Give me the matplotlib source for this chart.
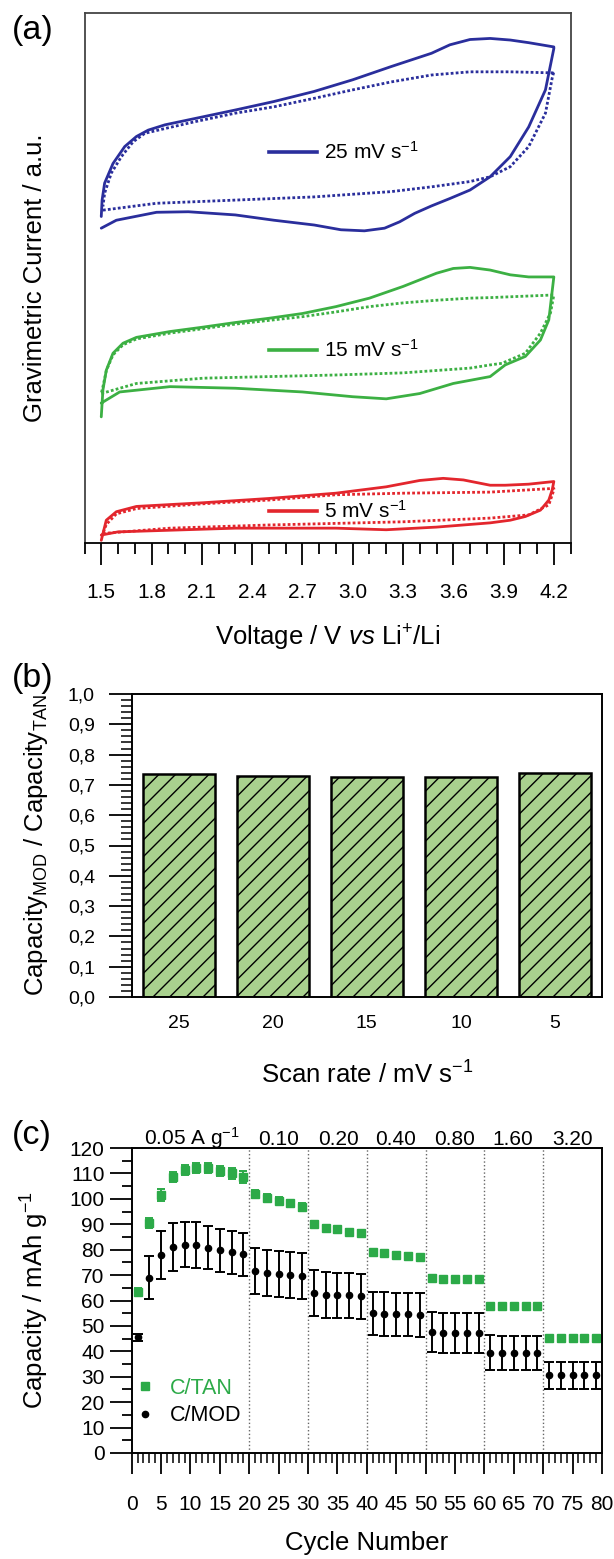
import numpy as np
import matplotlib.pyplot as plt
from matplotlib.ticker import MultipleLocator, FixedLocator, FuncFormatter
from matplotlib.lines import Line2D

plt.rcParams['font.family'] = ['Liberation Sans', 'DejaVu Sans']
plt.rcParams['mathtext.fontset'] = 'custom'
plt.rcParams['mathtext.rm'] = 'Liberation Sans'
plt.rcParams['mathtext.it'] = 'Liberation Sans:italic'
plt.rcParams['hatch.linewidth'] = 1.0

##### (a) cyclic voltammograms, current in arbitrary units (curves offset) #####
cv_labels = ['25 mV s$^{-1}$', '15 mV s$^{-1}$', '5 mV s$^{-1}$']
cv_colors = ['#2a2e9c', '#3cb043', '#e3262d']

v25_solid = [1.50, 1.59, 1.83, 2.02, 2.30, 2.53, 2.77, 2.93, 3.07, 3.19, 3.28, 3.37, 3.47, 3.58, 3.70, 3.82,
             3.94, 4.05, 4.15, 4.20, 4.20, 4.05, 3.94, 3.82, 3.70, 3.58, 3.47, 3.23, 3.00, 2.77, 2.53, 2.30,
             2.06, 1.88, 1.78, 1.71, 1.64, 1.57, 1.52, 1.505, 1.50]
i25_solid = [59.4, 60.9, 62.4, 62.5, 61.9, 60.9, 60.0, 59.1, 58.9, 59.4, 60.6, 62.2, 63.6, 65.0, 66.6, 69.1,
             72.9, 78.5, 85.5, 93.3, 93.6, 94.4, 94.9, 95.2, 95.0, 94.0, 92.4, 89.9, 87.4, 85.2, 83.3, 81.7,
             80.1, 78.9, 77.9, 76.7, 74.8, 71.6, 67.9, 64.7, 61.6]
v25_dot = [1.51, 1.83, 2.30, 2.77, 3.23, 3.47, 3.70, 3.82, 3.94, 4.05, 4.15, 4.19, 4.20,
           4.20, 3.94, 3.70, 3.47, 3.23, 3.00, 2.77, 2.53, 2.30, 2.06, 1.88, 1.76, 1.69, 1.62, 1.56, 1.52, 1.51]
i25_dot = [62.8, 64.1, 64.7, 65.3, 66.3, 67.2, 68.2, 69.1, 71.0, 74.8, 81.1, 87.7, 88.9,
           88.7, 88.9, 88.9, 88.3, 87.0, 85.5, 83.9, 82.3, 81.1, 79.5, 78.2, 77.3, 75.7, 72.9, 69.8, 66.0, 63.5]

v15_solid = [1.50, 1.61, 1.91, 2.30, 2.70, 3.00, 3.20, 3.40, 3.60, 3.82, 3.91, 4.03, 4.12, 4.17, 4.20,
             4.20, 4.05, 3.94, 3.82, 3.70, 3.60, 3.50, 3.30, 3.10, 2.90, 2.70, 2.50, 2.30, 2.10, 1.91, 1.71,
             1.63, 1.57, 1.53, 1.51, 1.50]
i15_solid = [26.4, 28.5, 29.5, 29.2, 28.5, 27.6, 27.2, 28.2, 30.1, 31.4, 33.6, 35.2, 38.3, 42.1, 50.2,
             50.2, 50.2, 50.6, 51.5, 52.0, 51.8, 50.9, 48.4, 46.2, 44.6, 43.3, 42.4, 41.6, 40.7, 39.9, 38.8,
             37.7, 35.8, 32.6, 28.9, 23.8]
v15_dot = [1.50, 1.71, 2.11, 2.50, 2.90, 3.30, 3.70, 3.82, 3.89, 4.03, 4.12, 4.18, 4.20,
           4.20, 4.05, 3.82, 3.70, 3.50, 3.30, 3.10, 2.90, 2.70, 2.50, 2.30, 2.10, 1.91, 1.71, 1.63, 1.57,
           1.53, 1.51, 1.50]
i15_dot = [28.2, 30.1, 31.1, 31.4, 31.7, 32.1, 33.0, 33.6, 33.9, 35.8, 39.6, 43.4, 46.8,
           46.8, 46.6, 46.3, 46.2, 45.8, 45.3, 44.6, 43.6, 42.7, 42.0, 41.3, 40.4, 39.6, 38.5, 37.4, 35.5,
           32.5, 29.5, 28.2]

v5_solid = [1.50, 1.60, 2.30, 2.90, 3.20, 3.50, 3.82, 3.94, 4.03, 4.12, 4.17, 4.19, 4.20,
            4.20, 4.05, 3.91, 3.82, 3.66, 3.54, 3.40, 3.20, 2.90, 2.50, 2.11, 1.71, 1.59, 1.53, 1.50]
i5_solid = [1.5, 2.1, 2.8, 2.8, 2.5, 3.0, 3.8, 4.3, 5.0, 6.2, 8.1, 10.0, 11.6,
            11.6, 11.1, 10.9, 10.9, 11.9, 12.2, 11.8, 10.6, 9.4, 8.4, 7.6, 6.9, 5.9, 4.3, 0.5]
v5_dot = [1.51, 1.91, 2.50, 2.90, 3.30, 3.82, 4.05, 4.17, 4.20,
          4.20, 3.82, 3.30, 2.90, 2.50, 2.11, 1.71, 1.59, 1.53, 1.51]
i5_dot = [1.8, 2.8, 3.4, 3.7, 4.0, 4.7, 5.3, 7.2, 10.0,
          10.3, 9.6, 9.4, 9.1, 8.1, 7.4, 6.5, 5.5, 3.5, 1.8]

##### (b) capacity ratio #####
scan_rates = ['25', '20', '15', '10', '5']
cap_ratio = [0.737, 0.730, 0.727, 0.727, 0.740]

##### (c) rate capability #####
cycles = list(range(1, 80, 2))
tan_cap = [63.5, 90.5, 101.5, 108.5, 111.5, 112.0, 112.0, 111.0, 110.0, 108.5,
           102.0, 100.3, 99.3, 98.3, 96.7,
           90.0, 88.5, 88.0, 87.0, 86.5,
           79.0, 78.5, 78.0, 77.5, 77.0,
           69.0, 68.5, 68.5, 68.5, 68.5,
           58.0, 57.8, 57.8, 57.8, 57.8,
           45.3, 45.2, 45.2, 45.2, 45.2]
tan_err = [1.5, 2.0, 2.3, 2.0, 2.0, 2.0, 2.0, 2.0, 2.0, 2.3,
           1.5, 1.5, 1.5, 1.2, 1.5,
           1.2, 1.2, 1.0, 1.0, 1.2,
           1.0, 1.0, 1.0, 1.0, 1.0,
           1.0, 0.8, 0.8, 0.8, 0.8,
           0.8, 0.8, 0.8, 0.8, 0.8,
           0.8, 0.8, 0.8, 0.8, 0.8]
mod_cap = [45.5, 69.0, 77.8, 81.0, 82.0, 81.7, 80.7, 79.8, 79.0, 78.2,
           71.5, 70.7, 70.3, 70.0, 69.6,
           63.0, 62.3, 62.0, 62.0, 61.6,
           55.0, 54.7, 54.6, 54.5, 54.3,
           47.5, 47.2, 47.1, 47.1, 47.1,
           39.5, 39.3, 39.3, 39.3, 39.4,
           30.5, 30.5, 30.5, 30.5, 30.5]
mod_err = [1.5, 8.5, 9.5, 9.5, 9.0, 9.0, 8.5, 8.5, 8.5, 8.5,
           9.0, 9.0, 9.0, 9.0, 9.0,
           9.0, 9.0, 9.0, 9.0, 9.0,
           8.5, 8.5, 8.5, 8.5, 8.5,
           7.8, 7.8, 7.8, 7.8, 7.8,
           6.8, 6.8, 6.8, 6.8, 6.8,
           5.3, 5.3, 5.3, 5.3, 5.3]
rate_edges = [20, 30, 40, 50, 60, 70]
rate_labels = ['0.05 A g$^{-1}$', '0.10', '0.20', '0.40', '0.80', '1.60', '3.20']
rate_label_x = [10.3, 25, 35.2, 44.9, 55, 64.9, 75]

green = '#2caa48'
bar_green = '#a9d18e'

W, H = 614, 1559
def rect(l, t, r, b):
    return [l / W, 1 - b / H, (r - l) / W, (b - t) / H]

fig = plt.figure(figsize=(W / 100, H / 100), dpi=100)

##### panel (a) #####
ax1 = fig.add_axes(rect(84.5, 13, 570.6, 543))
curves = [(v25_solid, i25_solid, v25_dot, i25_dot),
          (v15_solid, i15_solid, v15_dot, i15_dot),
          (v5_solid, i5_solid, v5_dot, i5_dot)]
for (vs, cs, vd, cd), c in zip(curves, cv_colors):
    ax1.plot(vs, cs, color=c, lw=2.0, solid_joinstyle='round', solid_capstyle='round')
    ax1.plot(vd, cd, color=c, lw=2.0, ls=(0, (1.0, 0.8)))
key_y = [73.8, 36.4, 6.0]
for lab, y, c in zip(cv_labels, key_y, cv_colors):
    ax1.plot([2.50, 2.79], [y, y], color=c, lw=2.6)
    ax1.text(2.83, y, lab, va='center', ha='left', fontsize=15)
ax1.set_xlim(1.4, 4.3)
ax1.set_ylim(0, 100)
ax1.xaxis.set_major_locator(FixedLocator([1.5, 1.8, 2.1, 2.4, 2.7, 3.0, 3.3, 3.6, 3.9, 4.2]))
ax1.xaxis.set_major_formatter(FuncFormatter(lambda x, p: f'{x:.1f}'))
ax1.xaxis.set_minor_locator(MultipleLocator(0.1))
ax1.set_yticks([])
ax1.tick_params(axis='x', which='major', direction='out', length=15.5, width=1.3, pad=13, labelsize=15)
ax1.tick_params(axis='x', which='minor', direction='out', length=8, width=1.3)
for s in ax1.spines.values():
    s.set_color('#444444')
    s.set_linewidth(1.3)
ax1.spines['bottom'].set_color('k')
ax1.set_xlabel(r'Voltage / V $\mathit{vs}$ Li$^{+}$/Li', fontsize=18.5, va='center')
ax1.xaxis.set_label_coords(0.5, -0.179)
ax1.set_ylabel('Gravimetric Current / a.u.', fontsize=18.5, va='center')
ax1.yaxis.set_label_coords(-0.102, 0.5)

##### panel (b) #####
ax2 = fig.add_axes(rect(131.7, 694, 602, 997))
ax2.bar(range(len(scan_rates)), cap_ratio, width=0.77, color=bar_green, edgecolor='k',
        linewidth=1.8, hatch='//')
ax2.set_xlim(-0.5, 4.5)
ax2.set_ylim(0, 1.0)
ax2.set_xticks(range(len(scan_rates)), scan_rates)
ax2.yaxis.set_major_locator(MultipleLocator(0.1))
ax2.yaxis.set_minor_locator(MultipleLocator(0.02))
ax2.yaxis.set_major_formatter(FuncFormatter(lambda y, p: f'{y:.1f}'.replace('.', ',')))
ax2.tick_params(axis='x', length=0, pad=13, labelsize=14)
ax2.tick_params(axis='y', which='major', direction='out', length=16.5, width=1.3, pad=10, labelsize=14)
ax2.tick_params(axis='y', which='minor', direction='out', length=8, width=1.1)
for s in ax2.spines.values():
    s.set_linewidth(1.4)
ax2.set_xlabel('Scan rate / mV s$^{-1}$', fontsize=18.5, va='center')
ax2.xaxis.set_label_coords(0.5, -0.257)
ax2.set_ylabel(r'Capacity$_{\mathrm{MOD}}$ / Capacity$_{\mathrm{TAN}}$', fontsize=18.5, va='center')
ax2.yaxis.set_label_coords(-0.2035, 0.5)

##### panel (c) #####
ax3 = fig.add_axes(rect(131.7, 1148, 602, 1453))
for xe in rate_edges:
    ax3.axvline(xe, color='#666666', ls=':', lw=1.0, zorder=0)
ax3.errorbar(cycles, tan_cap, yerr=tan_err, fmt='s', color=green, ms=5.5, capsize=3,
             elinewidth=1.4, capthick=1.4)
ax3.errorbar(cycles, mod_cap, yerr=mod_err, fmt='o', color='k', ms=4.5, capsize=3.5,
             elinewidth=1.4, capthick=1.4)
for lab, xl in zip(rate_labels, rate_label_x):
    ax3.text(xl, 121.2, lab, ha='center', va='baseline', fontsize=15)
ax3.set_xlim(0, 80)
ax3.set_ylim(0, 120)
ax3.xaxis.set_major_locator(MultipleLocator(5))
ax3.xaxis.set_minor_locator(MultipleLocator(1))
ax3.yaxis.set_major_locator(MultipleLocator(10))
ax3.yaxis.set_minor_locator(MultipleLocator(5))
ax3.tick_params(axis='x', which='major', direction='out', length=15, width=1.3, pad=15, labelsize=15)
ax3.tick_params(axis='x', which='minor', direction='out', length=7.5, width=1.1)
ax3.tick_params(axis='y', which='major', direction='out', length=16, width=1.3, pad=3.5, labelsize=15)
ax3.tick_params(axis='y', which='minor', direction='out', length=7.5, width=1.3)
for s in ax3.spines.values():
    s.set_linewidth(1.4)
handles = [Line2D([], [], marker='s', ls='none', color=green, ms=5.5),
           Line2D([], [], marker='o', ls='none', color='k', ms=4.5)]
ax3.legend(handles, ['C/TAN', 'C/MOD'], loc='center left', bbox_to_anchor=(0.011, 0.1675),
           frameon=False, fontsize=15.5, handlelength=0.8, handletextpad=0.75, labelspacing=0.3,
           borderpad=0, borderaxespad=0, labelcolor=[green, 'k'])
ax3.set_xlabel('Cycle Number', fontsize=18.5, va='center')
ax3.xaxis.set_label_coords(0.5, -0.295)
ax3.set_ylabel('Capacity / mAh g$^{-1}$', fontsize=18.5, va='center')
ax3.yaxis.set_label_coords(-0.2056, 0.5)

for lab, top in zip(['(a)', '(b)', '(c)'], [15, 663, 1120]):
    fig.text(12 / W, 1 - top / H, lab, fontsize=24.5, va='top', ha='left')

fig.savefig('out.png', dpi=100)
plt.close(fig)
